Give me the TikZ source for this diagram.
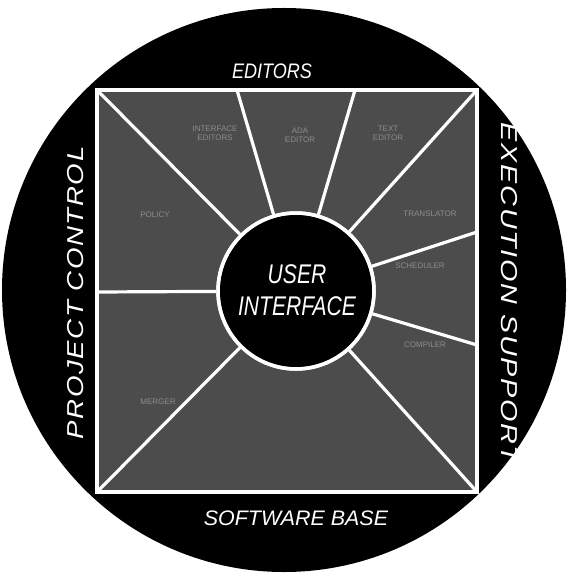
\documentclass[tikz,border=0pt]{standalone}
\usepackage{fontspec}
\setmainfont{Liberation Sans}
\begin{document}
\begin{tikzpicture}[x=1pt,y=-1pt,
  ringfont/.style={font=\itshape\fontsize{21}{22}\selectfont, text=white, inner sep=0pt},
  ring/.style={ringfont, xscale=0.86},
  vring/.style={font=\itshape\fontsize{23}{24}\selectfont, text=white, inner sep=0pt},
  faint/.style={font=\fontsize{8}{9}\selectfont, text=black!45, align=center, inner sep=0pt},
  spoke/.style={draw=white, line width=3.2pt}]
\useasboundingbox (0,0) rectangle (568,577);
\fill[white] (0,0) rectangle (568,577);
\fill[black] (284,290) circle (282);
\draw[fill=black!70, draw=white, line width=3.5pt] (97,90) rectangle (477,492);
% corner / edge coordinates
\coordinate (tl) at (97,90);
\coordinate (t1) at (237,90);
\coordinate (t2) at (355,90);
\coordinate (tr) at (477,90);
\coordinate (r1) at (477,232);
\coordinate (r2) at (477,345);
\coordinate (br) at (477,492);
\coordinate (bl) at (97,492);
\coordinate (l1) at (97,292);
\node[circle, minimum size=156pt, inner sep=0pt, fill=black, draw=white, line width=3.5pt] (ui) at (296,291) {};
\foreach \p in {tl,t1,t2,tr,r1,r2,br,bl,l1} \draw[spoke] (\p) -- (ui);
\node[circle, minimum size=156pt, inner sep=0pt, draw=white, line width=3.5pt] at (ui) {};
\node[font=\itshape\fontsize{27}{32}\selectfont, text=white, align=center, xscale=0.78] at (297,290) {USER\\INTERFACE};
% ring labels
\node[ring] (ed) at (272,71) {EDITORS};
\node[ringfont, xscale=1.02] (sb) at (296,518) {SOFTWARE BASE};
\node[vring, rotate=90, xscale=1.2] (pc) at (76,293) {\addfontfeatures{LetterSpace=6}PROJECT CONTROL};
\node[vring, rotate=-90, xscale=1.25] (es) at (509,293) {\addfontfeatures{LetterSpace=6}EXECUTION SUPPORT};
% faint sector labels
\node[faint] at (215,133) {INTERFACE\\EDITORS};
\node[faint] at (300,135) {ADA\\EDITOR};
\node[faint] at (388,133) {TEXT\\EDITOR};
\node[faint] at (430,214) {TRANSLATOR};
\node[faint] at (420,266) {SCHEDULER};
\node[faint] at (425,345) {COMPILER};
\node[faint] at (155,215) {POLICY};
\node[faint] at (158,402) {MERGER};
\end{tikzpicture}
\end{document}
